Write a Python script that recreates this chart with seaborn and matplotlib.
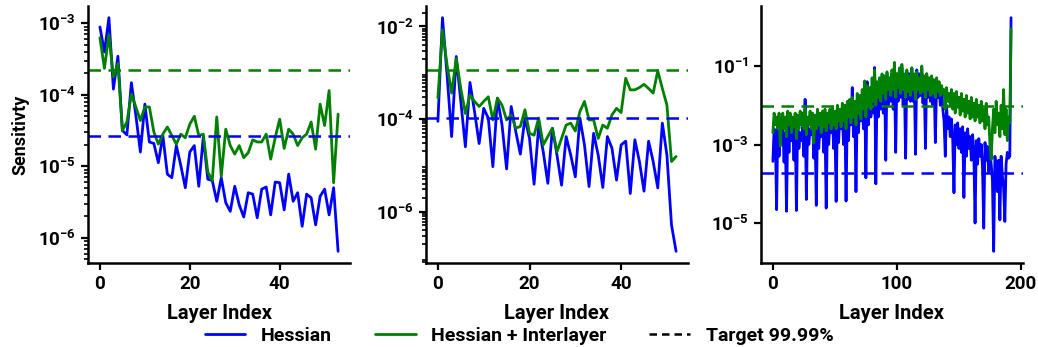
import numpy as np
import pandas as pd
import matplotlib
matplotlib.use("Agg")
import matplotlib.pyplot as plt
import seaborn as sns
from matplotlib.lines import Line2D
from matplotlib.ticker import FuncFormatter

# sensitivity values, stored as log10 exponents
hess_a = [-3.05, -3.40, -2.92, -3.92, -3.46, -4.50, -4.56, -3.83, -4.29, -4.80,
          -4.13, -4.66, -4.68, -4.95, -4.57, -5.11, -5.16, -4.71, -4.99, -5.30,
          -4.80, -4.71, -5.28, -4.59, -5.18, -5.20, -5.49,
          -5.16, -5.51, -5.63, -5.28, -5.54, -5.71, -5.37, -5.39, -5.72, -5.32,
          -5.29, -5.68, -5.22, -5.23, -5.61, -5.11, -5.49, -5.37, -5.84, -5.39,
          -5.44, -5.82, -5.42, -5.32, -5.68, -5.30, -6.19]
inter_a = [-3.20, -3.63, -3.16, -3.75, -3.56, -4.50, -4.38, -3.99, -4.17, -4.36,
           -4.17, -4.17, -4.52, -4.69, -4.55, -4.45, -4.57, -4.69, -4.55, -4.60,
           -4.41, -4.30, -4.57, -4.55, -5.08, -5.20, -4.31,
           -5.14, -4.48, -4.71, -4.83, -4.71, -4.88, -4.81, -4.63, -4.66, -4.66,
           -4.55, -4.90, -4.60, -4.34, -4.75, -4.48, -4.55, -4.71, -4.60, -4.55,
           -4.38, -4.76, -4.13, -4.43, -3.94, -5.23, -4.27]

hess_b = [-4.05, -1.81, -3.05, -4.38, -2.65, -3.62, -4.60, -3.21, -3.84, -4.53,
          -3.77, -3.98, -5.03, -3.55, -4.13, -5.08, -3.73, -4.27, -4.76, -3.98,
          -4.42, -5.41, -4.16, -4.71, -5.39, -4.20, -4.78,
          -5.43, -4.38, -4.78, -5.25, -3.98, -4.56, -5.46, -4.31, -4.78, -5.48,
          -4.38, -4.63, -5.32, -4.56, -4.48, -5.61, -4.45, -4.92, -5.56, -4.48,
          -4.92, -5.49, -4.09, -4.78, -6.29, -6.86]
inter_b = [-3.54, -2.07, -2.83, -3.44, -2.69, -3.34, -3.88, -3.48, -3.62, -3.73,
           -3.62, -3.52, -4.02, -3.55, -3.70, -4.02, -3.91, -4.20, -4.16, -3.80,
           -4.31, -4.35, -3.98, -4.56, -4.38, -4.20, -4.71, -4.42, -4.13, -4.09,
           -4.26, -3.84, -3.62, -4.02, -4.02, -4.42, -4.13, -4.20, -3.91, -3.77,
           -3.86, -3.12, -3.37, -3.37, -3.32, -3.25, -3.34, -3.44, -2.96, -3.34,
           -3.70, -4.92, -4.81]

hess_c = [-3.43, -2.60, -2.75, -4.66, -2.45, -3.30, -2.60, -2.80,
          -2.50, -3.45, -2.70, -4.70, -2.55, -3.20, -2.45, -2.90,
          -2.60, -3.40, -2.50, -4.68, -2.35, -3.10, -2.70, -2.90,
          -2.55, -3.30, -1.85, -4.40, -2.50, -3.00, -2.60, -2.75,
          -2.45, -3.35, -2.60, -4.55, -2.40, -3.10, -2.55, -2.80,
          -2.30, -3.20, -2.50, -4.62, -2.35, -3.00, -2.45, -2.70,
          -2.25, -3.10, -2.40, -4.45, -2.30, -2.95, -2.20, -2.60,
          -2.30, -3.00, -2.15, -4.44, -2.20, -2.90, -2.10, -2.50,
          -1.55, -2.80, -2.05, -4.20, -2.00, -2.70, -1.90, -2.40,
          -1.80, -2.60, -1.75, -3.85, -1.40, -2.50, -1.70, -2.30,
          -1.60, -2.20, -1.04, -4.00, -1.50, -2.30, -1.45, -2.10,
          -1.35, -2.20, -1.30, -3.40, -1.25, -2.00, -1.40, -1.90,
          -1.20, -2.10, -1.04, -3.20, -1.20, -1.90, -1.10, -1.80,
          -1.04, -2.00, -1.30, -3.35, -1.15, -1.85, -1.20, -1.90,
          -1.05, -1.90, -1.25, -3.25, -1.10, -1.80, -1.20, -1.75,
          -1.04, -1.95, -1.30, -3.10, -1.20, -1.80, -1.35, -1.90,
          -1.30, -2.00, -1.40, -2.95, -1.38, -1.80, -1.50, -2.00,
          -1.60, -2.10, -2.40, -3.30, -2.00, -2.60, -2.30, -2.80,
          -2.35, -2.90, -4.23, -2.50, -3.00, -2.45, -3.10, -2.60,
          -3.20, -2.55, -4.35, -2.70, -3.30, -2.60, -3.10, -2.80,
          -3.40, -2.75, -3.20, -5.00, -2.90, -3.50, -2.85, -3.30,
          -3.00, -3.60, -5.13, -2.95, -3.40, -3.05, -3.70, -3.20,
          -3.50, -3.90, -5.72, -3.30, -3.60, -4.20, -3.40, -4.92,
          -3.30, -3.80, -4.10, -4.96, -3.50, -3.20, -3.35, -3.30,
          0.23]
inter_c = [-2.70, -2.20, -2.50, -2.30, -2.60, -2.20, -3.04, -2.40,
           -2.20, -2.60, -2.30, -2.80, -2.15, -2.50, -2.20, -2.70,
           -2.30, -2.55, -2.20, -2.85, -2.25, -2.60, -2.15, -2.50,
           -2.20, -2.60, -2.10, -2.75, -2.30, -2.50, -2.15, -2.60,
           -2.20, -2.96, -2.25, -2.60, -2.10, -2.50, -2.20, -2.70,
           -2.15, -2.55, -2.10, -2.65, -2.20, -2.45, -2.10, -2.60,
           -2.05, -2.50, -2.15, -2.60, -2.00, -2.40, -2.10, -2.55,
           -1.95, -2.40, -2.00, -2.60, -1.90, -2.30, -1.85, -2.45,
           -1.80, -2.30, -1.90, -2.50, -1.70, -2.20, -1.75, -2.35,
           -1.60, -2.10, -1.38, -2.30, -1.50, -2.00, -1.55, -2.10,
           -1.30, -1.90, -1.10, -2.00, -1.40, -1.80, -1.30, -1.90,
           -1.20, -1.70, -1.25, -1.85, -1.15, -1.60, -1.30, -1.75,
           -1.10, -1.60, -0.91, -1.80, -1.20, -1.55, -1.05, -1.70,
           -0.96, -1.60, -1.20, -1.80, -1.10, -1.65, -1.25, -1.75,
           -1.05, -1.60, -1.20, -1.85, -1.15, -1.60, -1.30, -1.70,
           -1.00, -1.65, -1.25, -1.80, -1.20, -1.60, -1.30, -1.75,
           -1.25, -1.70, -1.35, -1.80, -1.30, -1.65, -1.40, -1.75,
           -1.50, -1.70, -1.60, -2.10, -1.55, -1.90, -1.70, -2.00,
           -1.60, -2.10, -1.70, -2.20, -1.65, -2.05, -1.80, -2.25,
           -1.70, -2.15, -1.85, -2.30, -1.75, -2.20, -1.90, -2.35,
           -1.80, -2.30, -1.95, -2.40, -1.85, -2.30, -2.00, -2.45,
           -1.90, -2.40, -2.10, -2.60, -1.95, -2.50, -2.30, -3.00,
           -3.38, -2.60, -2.10, -2.70, -1.90, -2.50, -2.20, -2.80,
           -2.00, -2.60, -1.60, -2.75, -2.10, -2.90, -2.30, -2.45,
           -0.05]

# 99.99% targets (log10): [hessian, hessian + interlayer]
target_a = [-4.58, -3.65]
target_b = [-3.98, -2.94]
target_c = [-3.72, -2.02]

yticks_a = [-3, -4, -5, -6]
yticks_b = [-2, -4, -6]
yticks_c = [-1, -3, -5]
xticks_ab = [0, 20, 40]
xticks_c = [0, 100, 200]

BLUE = "#0000ff"
GREEN = "#008000"

sns.set_style("ticks")
plt.rcParams["font.family"] = ["Roboto", "DejaVu Sans"]
plt.rcParams["font.weight"] = "bold"
plt.rcParams["mathtext.fontset"] = "custom"
plt.rcParams["mathtext.rm"] = "Roboto:bold"
plt.rcParams["mathtext.bf"] = "Roboto:bold"
plt.rcParams["mathtext.default"] = "bf"
plt.rcParams["axes.edgecolor"] = "black"
plt.rcParams["xtick.color"] = "black"
plt.rcParams["ytick.color"] = "black"
plt.rcParams["text.color"] = "black"
plt.rcParams["axes.labelcolor"] = "black"

fig = plt.figure(figsize=(10.38, 3.47), dpi=100)
lefts = [0.0848, 0.4104, 0.7331]
panels = [
    (hess_a, inter_a, target_a, yticks_a, xticks_ab),
    (hess_b, inter_b, target_b, yticks_b, xticks_ab),
    (hess_c, inter_c, target_c, yticks_c, xticks_c),
]

for k, (h, g, tgt, yt, xt) in enumerate(panels):
    ax = fig.add_axes([lefts[k], 0.2421, 0.2524, 0.7406])
    df = pd.DataFrame({
        "layer": list(range(len(h))) + list(range(len(g))),
        "sens": np.power(10.0, h + g),
        "method": ["Hessian"] * len(h) + ["Hessian + Interlayer"] * len(g),
    })
    sns.lineplot(data=df, x="layer", y="sens", hue="method",
                 palette=[BLUE, GREEN], linewidth=2.0, legend=False, ax=ax)
    ax.set_yscale("log")
    ax.axhline(10 ** tgt[0], color=BLUE, lw=1.8, ls="--", dashes=(5, 3))
    ax.axhline(10 ** tgt[1], color=GREEN, lw=1.8, ls="--", dashes=(5, 3))
    ax.set_yticks([10.0 ** v for v in yt])
    ax.yaxis.set_major_formatter(
        FuncFormatter(lambda v, p: r"$\mathbf{10^{%d}}$" % round(np.log10(v))))
    ax.set_xticks(xt)
    ax.tick_params(axis="both", labelsize=13.5, width=1.6, length=5)
    ax.tick_params(axis="y", which="minor", width=1.2, length=3)
    for lab in ax.get_xticklabels():
        lab.set_fontweight("bold")
    for sp in ["left", "bottom"]:
        ax.spines[sp].set_linewidth(1.8)
    sns.despine(ax=ax)
    ax.set_xlabel("Layer Index", fontsize=14.5, fontweight="bold", labelpad=8)
    if k == 0:
        ax.set_ylabel("Sensitivty", fontsize=13, fontweight="bold", labelpad=6)
    else:
        ax.set_ylabel("")

handles = [
    Line2D([], [], color=BLUE, lw=2.0),
    Line2D([], [], color=GREEN, lw=2.0),
    Line2D([], [], color="black", lw=1.8, ls="--", dashes=(3, 2)),
]
fig.legend(handles, ["Hessian", "Hessian + Interlayer", "Target 99.99%"],
           loc="center", bbox_to_anchor=(0.5, 0.032), ncol=3, frameon=False,
           prop={"size": 14, "weight": "bold"}, handlelength=2.1,
           handletextpad=0.8, columnspacing=2.2, borderaxespad=0)

fig.savefig("out.png", dpi=100)
